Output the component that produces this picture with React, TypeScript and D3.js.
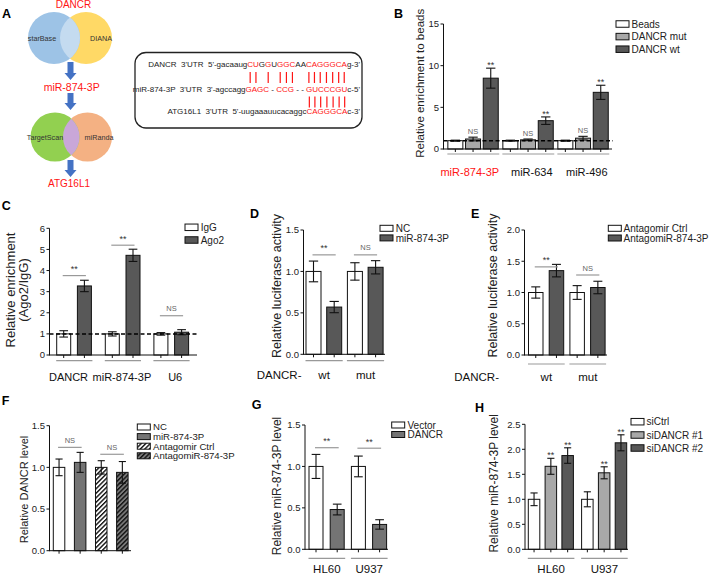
import React, { useLayoutEffect, useRef, useState } from 'react';
import * as d3 from 'd3';

const FONT = "'Liberation Sans', Arial, Helvetica, sans-serif";
const WHITE = '#ffffff';
const LIGHT = '#a8a8a8';
const MID = '#747474';
const DARK = '#585858';
const RED = '#ff1414';

// ---------- Panel A (diagram) ----------
const seqLine1Prefix = "DANCR  3'UTR  5'-gacaaug";
const seqLine1Core = 'CUGGUGGCAACAGGGCA';
const seqLine1Suffix = "g-3'";
const seqLine1Paired = [0, 1, 3, 5, 6, 7, 10, 11, 12, 13, 14, 15, 16];
const seqLine2: [string, boolean][] = [
  ["miR-874-3P  3'UTR  3'-agccagg", false], ['GAGC', true], [' - ', false], ['CCG', true],
  [' - - ', false], ['GUCCCGU', true], ["c-5'", false],
];
const seqLine3Prefix = "ATG16L1  3'UTR  5'-uugaaauucacaggc";
const seqLine3Core = 'CAGGGCA';
const seqLine3Suffix = "c-3'";

// ---------- Panel B ----------
const bGroups = ['miR-874-3P', 'miR-634', 'miR-496'];
const bGroupColors = [RED, '#111', '#111'];
const bSeries = ['Beads', 'DANCR mut', 'DANCR wt'];
const bValues = [[1.0, 1.0, 1.0], [1.2, 1.1, 1.3], [8.5, 3.4, 6.8]];
const bErrors = [[0.06, 0.06, 0.06], [0.22, 0.1, 0.22], [1.2, 0.45, 0.85]];
const bStars = [['', '', ''], ['NS', 'NS', 'NS'], ['**', '**', '**']];
const bTicks = [0, 5, 10, 15];

// ---------- Panel C ----------
const cGroups = ['DANCR', 'miR-874-3P', 'U6'];
const cSeries = ['IgG', 'Ago2'];
const cValues = [[1.0, 1.0, 1.0], [3.27, 4.72, 1.08]];
const cErrors = [[0.15, 0.1, 0.06], [0.27, 0.29, 0.12]];
const cSigLevels = [3.76, 5.2, 1.86];
const cSigLabels = ['**', '**', 'NS'];
const cTicks = [0, 1, 2, 3, 4, 5, 6];

// ---------- Panel D ----------
const dGroups = ['wt', 'mut'];
const dSeries = ['NC', 'miR-874-3P'];
const dValues = [[1.0, 1.0], [0.57, 1.05]];
const dErrors = [[0.125, 0.105], [0.068, 0.08]];
const dSigLevels = [1.2, 1.2];
const dSigLabels = ['**', 'NS'];
const dTicks = [0, 0.5, 1.0, 1.5];

// ---------- Panel E ----------
const eGroups = ['wt', 'mut'];
const eSeries = ['Antagomir Ctrl', 'AntagomiR-874-3P'];
const eValues = [[1.0, 1.0], [1.35, 1.08]];
const eErrors = [[0.09, 0.11], [0.1, 0.1]];
const eSigLevels = [1.41, 1.28];
const eSigLabels = ['**', 'NS'];
const eTicks = [0, 0.5, 1.0, 1.5, 2.0];

// ---------- Panel F ----------
const fGroups = [''];
const fSeries = ['NC', 'miR-874-3P', 'Antagomir Ctrl', 'AntagomiR-874-3P'];
const fValues = [[1.0], [1.06], [1.0], [0.94]];
const fErrors = [[0.1], [0.12], [0.08], [0.13]];
const fSigPairs = [[0, 1], [2, 3]];
const fSigLevels = [1.24, 1.157];
const fSigLabels = ['NS', 'NS'];
const fTicks = [0, 0.5, 1.0, 1.5];

// ---------- Panel G ----------
const gGroups = ['HL60', 'U937'];
const gSeries = ['Vector', 'DANCR'];
const gValues = [[1.0, 1.0], [0.48, 0.3]];
const gErrors = [[0.145, 0.125], [0.065, 0.057]];
const gSigLevels = [1.226, 1.22];
const gSigLabels = ['**', '**'];
const gTicks = [0, 0.5, 1.0, 1.5];

// ---------- Panel H ----------
const hGroups = ['HL60', 'U937'];
const hSeries = ['siCtrl', 'siDANCR #1', 'siDANCR #2'];
const hValues = [[1.0, 1.0], [1.66, 1.53], [1.875, 2.13]];
const hErrors = [[0.127, 0.15], [0.16, 0.12], [0.155, 0.16]];
const hStars = [['', ''], ['**', '**'], ['**', '**']];
const hTicks = [0, 0.5, 1.0, 1.5, 2.0, 2.5];

type Bracket = { g: number; a: number; b: number; y: number; label: string };
type PanelProps = {
  letter: string; letterPos: [number, number];
  axisX: number; y0: number; yTop: number; yMax: number; ticks: number[]; fmt: (v: number) => string;
  groups: string[]; series: string[]; values: number[][]; errors: number[][]; fills: string[];
  gStart: number; gStep: number; sStep: number; barW: number; axisEnd: number;
  title: string[]; titleX: number[]; titleY: number; titleSize: number;
  underlineY?: number; labelY?: number; labelSize?: number; labelColors?: string[]; labelDx?: number[];
  prefix?: { text: string; x: number };
  stars?: string[][];
  brackets?: Bracket[];
  dashed?: { value: number; x2: number };
  legend: { x: number; ys: number[]; boxH: number; textX: number; size: number };
};

const f1 = d3.format('.1f');
const f0 = (v: number) => String(v);

function BarPanel(p: PanelProps) {
  const y = d3.scaleLinear().domain([0, p.yMax]).range([p.y0, p.yTop]);
  const gIdx = p.groups.map((_, i) => i);
  const sIdx = p.series.map((_, i) => i);
  const gx = d3.scaleBand<number>().domain(gIdx).range([p.gStart, p.gStart + p.groups.length * p.gStep]);
  const pad = 1 - p.barW / p.sStep;
  const sx = d3.scaleBand<number>().domain(sIdx).range([0, p.series.length * p.sStep]).paddingInner(pad).paddingOuter(pad / 2);
  const bw = sx.bandwidth();
  const left = (g: number, s: number) => (gx(g) as number) + (sx(s) as number);
  const cx = (g: number, s: number) => left(g, s) + bw / 2;
  const capW = bw * 0.62;
  const bars: { g: number; s: number; v: number; e: number }[] = [];
  gIdx.forEach((g) => sIdx.forEach((s) => bars.push({ g, s, v: p.values[s][g], e: p.errors[s][g] })));
  const ink = '#111';
  return (
    <g>
      <text x={p.letterPos[0]} y={p.letterPos[1]} fontSize={12.5} fontWeight="bold" fill="#000">{p.letter}</text>
      {bars.map((b) => (
        <rect key={`r${b.g}-${b.s}`} x={left(b.g, b.s)} y={y(b.v)} width={bw} height={p.y0 - y(b.v)}
          fill={p.fills[b.s]} stroke={ink} strokeWidth={1} />
      ))}
      {bars.map((b) => {
        const x = cx(b.g, b.s);
        const t = y(b.v + b.e);
        const bt = y(b.v - b.e);
        return (
          <g key={`e${b.g}-${b.s}`} stroke={ink} strokeWidth={1.1}>
            <line x1={x} x2={x} y1={t} y2={bt} />
            <line x1={x - capW / 2} x2={x + capW / 2} y1={t} y2={t} />
            <line x1={x - capW / 2} x2={x + capW / 2} y1={bt} y2={bt} />
          </g>
        );
      })}
      {p.dashed && (
        <line x1={p.axisX} x2={p.dashed.x2} y1={y(p.dashed.value)} y2={y(p.dashed.value)}
          stroke="#000" strokeWidth={1.5} strokeDasharray="4 2.5" />
      )}
      {/* y axis */}
      <line x1={p.axisX} x2={p.axisX} y1={p.y0 + 0.5} y2={p.yTop} stroke={ink} strokeWidth={1} />
      {p.ticks.map((t) => (
        <g key={`t${t}`}>
          <line x1={p.axisX - 3} x2={p.axisX} y1={y(t)} y2={y(t)} stroke={ink} strokeWidth={1} />
          <text x={p.axisX - 4.5} y={y(t)} dy="0.35em" textAnchor="end" fontSize={9.5} fill="#222">{p.fmt(t)}</text>
        </g>
      ))}
      {/* x axis */}
      <line x1={p.axisX} x2={p.axisEnd} y1={p.y0} y2={p.y0} stroke={ink} strokeWidth={1} />
      {bars.map((b) => (
        <line key={`xt${b.g}-${b.s}`} x1={cx(b.g, b.s)} x2={cx(b.g, b.s)} y1={p.y0} y2={p.y0 + 3} stroke={ink} strokeWidth={1} />
      ))}
      {/* per-bar stars */}
      {p.stars && bars.map((b) => {
        const lab = p.stars![b.s][b.g];
        if (!lab) return null;
        const top = y(b.v + b.e);
        const isNS = lab === 'NS';
        return (
          <text key={`st${b.g}-${b.s}`} x={cx(b.g, b.s)} y={isNS ? top - 3 : top - 0.3} textAnchor="middle"
            fontSize={isNS ? 7.5 : 9} fill={isNS ? '#666' : '#333'}>{lab}</text>
        );
      })}
      {/* brackets */}
      {p.brackets && p.brackets.map((br, i) => {
        const ly = y(br.y);
        const xa = cx(br.g, br.a) - 1;
        const xb = cx(br.g, br.b) + 1.5;
        const isNS = br.label === 'NS';
        return (
          <g key={`br${i}`}>
            <line x1={xa} x2={xb} y1={ly} y2={ly} stroke="#999" strokeWidth={1.2} />
            <text x={(xa + xb) / 2} y={isNS ? ly - 4.5 : ly - 3.6} textAnchor="middle" fontSize={isNS ? 7.5 : 9}
              fill={isNS ? '#666' : '#333'}>{br.label}</text>
          </g>
        );
      })}
      {/* group underlines and labels */}
      {p.underlineY !== undefined && gIdx.map((g) => {
        const l = left(g, 0) - 0.5;
        const r = left(g, p.series.length - 1) + bw + 1;
        const dx = p.labelDx ? p.labelDx[g] : 0;
        return (
          <g key={`u${g}`}>
            <line x1={l} x2={r} y1={p.underlineY} y2={p.underlineY} stroke="#999" strokeWidth={1.2} />
            <text x={(l + r) / 2 + dx} y={p.labelY} textAnchor="middle" fontSize={p.labelSize}
              fill={p.labelColors ? p.labelColors[g] : '#111'}>{p.groups[g]}</text>
          </g>
        );
      })}
      {p.prefix && (
        <text x={p.prefix.x} y={p.labelY} textAnchor="end" fontSize={p.labelSize} fill="#111">{p.prefix.text}</text>
      )}
      {/* y title */}
      {p.title.map((t, i) => (
        <text key={`yt${i}`} transform={`translate(${p.titleX[i]},${p.titleY}) rotate(-90)`} textAnchor="middle"
          fontSize={p.titleSize} fill="#222">{t}</text>
      ))}
      {/* legend */}
      {sIdx.map((s) => (
        <g key={`lg${s}`}>
          <rect x={p.legend.x} y={p.legend.ys[s] - p.legend.boxH / 2} width={13} height={p.legend.boxH}
            fill={p.fills[s]} stroke={ink} strokeWidth={1} />
          <text x={p.legend.textX} y={p.legend.ys[s]} dy="0.36em" fontSize={p.legend.size} fill="#222">{p.series[s]}</text>
        </g>
      ))}
    </g>
  );
}

const pairBrackets = (levels: number[], labels: string[]): Bracket[] =>
  levels.map((lv, g) => ({ g, a: 0, b: 1, y: lv, label: labels[g] }));

const panels: PanelProps[] = [
  {
    letter: 'B', letterPos: [394, 18.3], axisX: 443.5, y0: 149, yTop: 24, yMax: 15, ticks: bTicks, fmt: f0,
    groups: bGroups, series: bSeries, values: bValues, errors: bErrors, fills: [WHITE, LIGHT, DARK],
    gStart: 446.5, gStep: 55, sStep: 17.7, barW: 15, axisEnd: 612,
    title: ['Relative enrichment to beads'], titleX: [424], titleY: 83.3, titleSize: 11.5,
    underlineY: 154, labelY: 175.5, labelSize: 11, labelColors: bGroupColors, labelDx: [-3.5, 3.5, 3.5],
    stars: bStars, dashed: { value: 1, x2: 613 },
    legend: { x: 616, ys: [24, 36.6, 49.2], boxH: 6.5, textX: 631.5, size: 10 },
  },
  {
    letter: 'C', letterPos: [1.7, 210], axisX: 49.5, y0: 355, yTop: 228.3, yMax: 6, ticks: cTicks, fmt: f0,
    groups: cGroups, series: cSeries, values: cValues, errors: cErrors, fills: [WHITE, DARK],
    gStart: 53.35, gStep: 48.6, sStep: 20.7, barW: 14, axisEnd: 197,
    title: ['Relative enrichment', '(Ago2/IgG)'], titleX: [14.5, 28], titleY: 290, titleSize: 13,
    underlineY: 360.7, labelY: 380.7, labelSize: 11, labelDx: [-5.8, -1, 3.7],
    brackets: pairBrackets(cSigLevels, cSigLabels), dashed: { value: 1, x2: 197 },
    legend: { x: 185, ys: [227.3, 240], boxH: 6.5, textX: 200.7, size: 10 },
  },
  {
    letter: 'D', letterPos: [250, 217.7], axisX: 303.5, y0: 354.3, yTop: 230, yMax: 1.5, ticks: dTicks, fmt: f1,
    groups: dGroups, series: dSeries, values: dValues, errors: dErrors, fills: [WHITE, DARK],
    gStart: 303.15, gStep: 41.4, sStep: 20.7, barW: 15, axisEnd: 385,
    title: ['Relative luciferase activity'], titleX: [281], titleY: 286, titleSize: 12.5,
    underlineY: 360.7, labelY: 379, labelSize: 11.5, prefix: { text: 'DANCR-', x: 301.5 },
    brackets: pairBrackets(dSigLevels, dSigLabels),
    legend: { x: 380, ys: [228.3, 237.9], boxH: 6, textX: 395.7, size: 10 },
  },
  {
    letter: 'E', letterPos: [471, 217.7], axisX: 524.5, y0: 355, yTop: 230, yMax: 2, ticks: eTicks, fmt: f1,
    groups: eGroups, series: eSeries, values: eValues, errors: eErrors, fills: [WHITE, DARK],
    gStart: 525.4, gStep: 41.4, sStep: 20.7, barW: 14.5, axisEnd: 607,
    title: ['Relative luciferase activity'], titleX: [497], titleY: 285.5, titleSize: 12.5,
    underlineY: 364, labelY: 380.7, labelSize: 11.5, prefix: { text: 'DANCR-', x: 499 },
    brackets: pairBrackets(eSigLevels, eSigLabels),
    legend: { x: 608.3, ys: [228.3, 238], boxH: 6, textX: 623.5, size: 10 },
  },
  {
    letter: 'F', letterPos: [1.7, 405], axisX: 49.5, y0: 550.7, yTop: 425.7, yMax: 1.5, ticks: fTicks, fmt: f1,
    groups: fGroups, series: fSeries, values: fValues, errors: fErrors,
    fills: [WHITE, MID, 'url(#hatchW)', 'url(#hatchD)'],
    gStart: 48.5, gStep: 84.4, sStep: 21.1, barW: 11.5, axisEnd: 131,
    title: ['Relative DANCR level'], titleX: [28], titleY: 489.5, titleSize: 11,
    brackets: fSigLevels.map((lv, i) => ({ g: 0, a: fSigPairs[i][0], b: fSigPairs[i][1], y: lv, label: fSigLabels[i] })),
    legend: { x: 137.3, ys: [427, 436.6, 446.2, 455.8], boxH: 6, textX: 153, size: 9.6 },
  },
  {
    letter: 'G', letterPos: [251.7, 409], axisX: 305, y0: 549.3, yTop: 425, yMax: 1.5, ticks: gTicks, fmt: f1,
    groups: gGroups, series: gSeries, values: gValues, errors: gErrors, fills: [WHITE, MID],
    gStart: 305.4, gStep: 42.4, sStep: 21.2, barW: 14, axisEnd: 388,
    title: ['Relative miR-874-3P level'], titleX: [281], titleY: 486, titleSize: 12,
    underlineY: 558.3, labelY: 573.3, labelSize: 11.5,
    brackets: pairBrackets(gSigLevels, gSigLabels),
    legend: { x: 391.7, ys: [425, 434.5], boxH: 6, textX: 407.5, size: 10 },
  },
  {
    letter: 'H', letterPos: [475, 412.3], axisX: 525, y0: 549.3, yTop: 424.3, yMax: 2.5, ticks: hTicks, fmt: f1,
    groups: hGroups, series: hSeries, values: hValues, errors: hErrors, fills: [WHITE, LIGHT, DARK],
    gStart: 525.65, gStep: 53.3, sStep: 16.8, barW: 11.5, axisEnd: 628,
    title: ['Relative miR-874-3P level'], titleX: [497.5], titleY: 483.3, titleSize: 12,
    underlineY: 558.3, labelY: 573.3, labelSize: 11.5, stars: hStars,
    legend: { x: 631, ys: [421.7, 435, 448], boxH: 6.5, textX: 646.5, size: 10 },
  },
];

function line1Segments(): [string, boolean][] {
  const segs: [string, boolean][] = [[seqLine1Prefix, false]];
  seqLine1Core.split('').forEach((ch, i) => {
    const red = seqLine1Paired.includes(i);
    const last = segs[segs.length - 1];
    if (segs.length > 1 && last[1] === red) last[0] += ch;
    else segs.push([ch, red]);
  });
  segs.push([seqLine1Suffix, false]);
  return segs;
}

function Arrow({ cx, y1, y2 }: { cx: number; y1: number; y2: number }) {
  const yh = y2 - 7;
  const d = `M${cx - 3},${y1} L${cx + 3},${y1} L${cx + 3},${yh} L${cx + 6},${yh} L${cx},${y2} L${cx - 6},${yh} L${cx - 3},${yh} Z`;
  return <path d={d} fill="#4472c4" />;
}

function PanelA() {
  const r1 = useRef<SVGTextElement>(null);
  const r3 = useRef<SVGTextElement>(null);
  const [bars1, setBars1] = useState<number[]>([]);
  const [bars2, setBars2] = useState<number[]>([]);
  useLayoutEffect(() => {
    const t1 = r1.current;
    const t3 = r3.current;
    if (!t1 || !t3) return;
    const mid = (el: SVGTextElement, i: number) => {
      try {
        const e = el.getExtentOfChar(i);
        return e.x + e.width / 2;
      } catch {
        return NaN;
      }
    };
    setBars1(seqLine1Paired.map((i) => mid(t1, seqLine1Prefix.length + i)));
    setBars2(seqLine3Core.split('').map((_, i) => mid(t3, seqLine3Prefix.length + i)));
  }, []);
  const segs1 = line1Segments();
  const fs = 8;
  return (
    <g>
      <text x={2} y={18} fontSize={12.5} fontWeight="bold">A</text>
      <defs>
        <clipPath id="clipBlue"><circle cx={54} cy={38} r={26} /></clipPath>
        <clipPath id="clipGreen"><circle cx={55} cy={137} r={24.5} /></clipPath>
      </defs>
      <text x={73.5} y={8} textAnchor="middle" fontSize={10} fill={RED}>DANCR</text>
      <circle cx={86} cy={38} r={26} fill="#ffd966" />
      <circle cx={54} cy={38} r={26} fill="#9dc3e6" />
      <circle cx={86} cy={38} r={26} fill="#c4dbf0" clipPath="url(#clipBlue)" />
      <text x={42} y={40.5} textAnchor="middle" fontSize={7.2} fill="#333">starBase</text>
      <text x={101} y={40.5} textAnchor="middle" fontSize={7.2} fill="#333">DIANA</text>
      <Arrow cx={70.5} y1={62} y2={80} />
      <text x={71.7} y={90.5} textAnchor="middle" fontSize={10.5} fill={RED}>miR-874-3P</text>
      <Arrow cx={70.5} y1={93} y2={110} />
      <circle cx={87.5} cy={137} r={24.5} fill="#f4b183" />
      <circle cx={55} cy={137} r={24.5} fill="#92d050" />
      <circle cx={87.5} cy={137} r={24.5} fill="#c9a7d8" clipPath="url(#clipGreen)" />
      <text x={45} y={139.5} textAnchor="middle" fontSize={7.2} fill="#333">TargetScan</text>
      <text x={99} y={139.5} textAnchor="middle" fontSize={7.2} fill="#333">miRanda</text>
      <Arrow cx={70.5} y1={160} y2={177} />
      <text x={69} y={186.5} textAnchor="middle" fontSize={10} fill={RED}>ATG16L1</text>

      <rect x={135} y={52.5} width={227} height={75.5} rx={11} fill="none" stroke="#222" strokeWidth={1.3} />
      <text ref={r1} x={360} y={67} textAnchor="end" fontSize={fs} style={{ whiteSpace: 'pre' }}>
        {segs1.map(([t, red], i) => <tspan key={i} fill={red ? RED : '#222'}>{t}</tspan>)}
      </text>
      <text x={360} y={91.7} textAnchor="end" fontSize={fs} style={{ whiteSpace: 'pre' }}>
        {seqLine2.map(([t, red], i) => <tspan key={i} fill={red ? RED : '#222'}>{t}</tspan>)}
      </text>
      <text ref={r3} x={360} y={114.3} textAnchor="end" fontSize={fs} style={{ whiteSpace: 'pre' }}>
        <tspan fill="#222">{seqLine3Prefix}</tspan>
        <tspan fill={RED}>{seqLine3Core}</tspan>
        <tspan fill="#222">{seqLine3Suffix}</tspan>
      </text>
      {bars1.filter((x) => !isNaN(x)).map((x, i) => (
        <line key={`p1${i}`} x1={x} x2={x} y1={72} y2={83} stroke={RED} strokeWidth={1.2} />
      ))}
      {bars2.filter((x) => !isNaN(x)).map((x, i) => (
        <line key={`p2${i}`} x1={x} x2={x} y1={96.5} y2={107.5} stroke={RED} strokeWidth={1.2} />
      ))}
    </g>
  );
}

export default function App() {
  useLayoutEffect(() => {
    document.body.style.margin = '0';
    document.body.style.overflow = 'hidden';
  }, []);
  return (
    <svg width={709} height={576} style={{ display: 'block', fontFamily: FONT, background: '#fff' }}>
      <defs>
        <pattern id="hatchW" width={3.2} height={3.2} patternUnits="userSpaceOnUse" patternTransform="rotate(45)">
          <rect width={3.2} height={3.2} fill="#fff" />
          <rect width={1.4} height={3.2} fill="#111" />
        </pattern>
        <pattern id="hatchD" width={3.2} height={3.2} patternUnits="userSpaceOnUse" patternTransform="rotate(45)">
          <rect width={3.2} height={3.2} fill="#7a7a7a" />
          <rect width={1.4} height={3.2} fill="#111" />
        </pattern>
      </defs>
      <rect width={709} height={576} fill="#fff" />
      <PanelA />
      {panels.map((p) => <BarPanel key={p.letter} {...p} />)}
    </svg>
  );
}
